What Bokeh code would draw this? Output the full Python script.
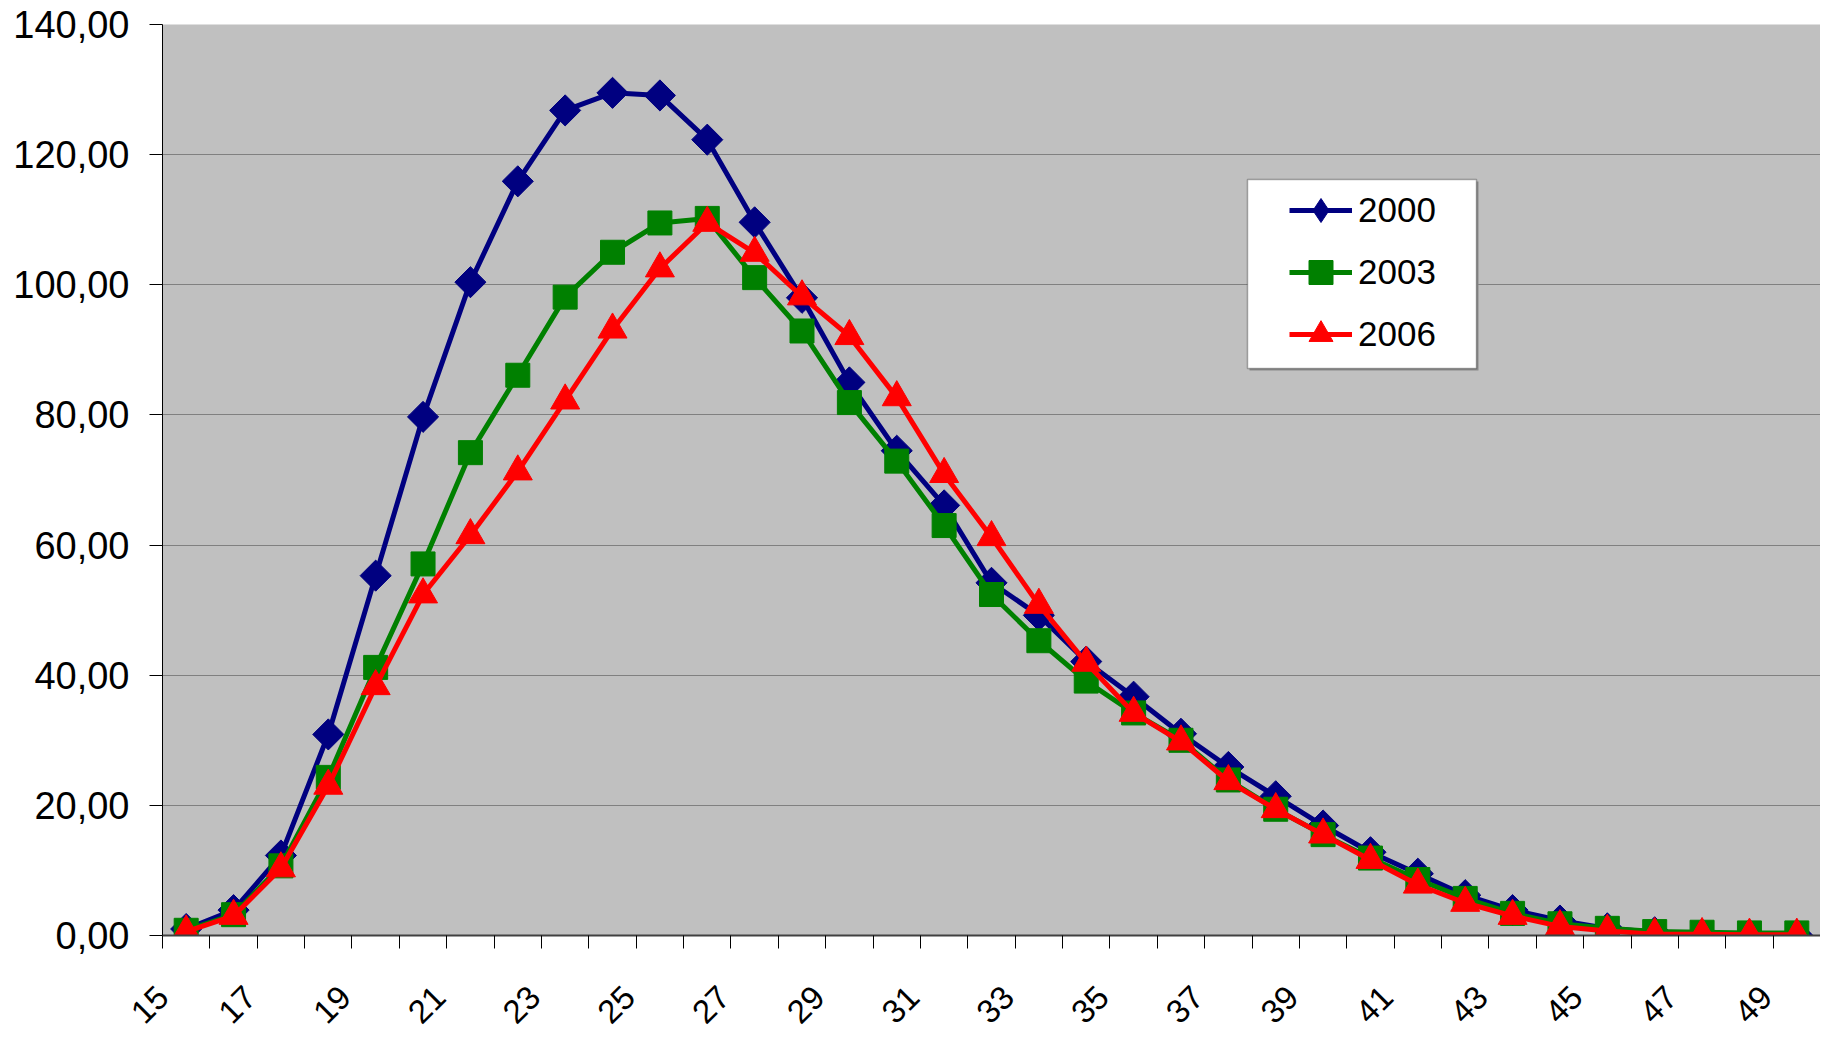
import math
from bokeh.plotting import figure
from bokeh.models import Range1d, FixedTicker, Legend, LegendItem, BoxAnnotation
from bokeh.embed import file_html
from bokeh.resources import INLINE

# ---- data ----
ages = list(range(15, 50))
s2000 = [1.0, 3.9, 12.3, 30.9, 55.3, 79.7, 100.4, 115.9, 126.8, 129.5, 129.1, 122.3,
         109.6, 98.0, 85.0, 74.5, 66.1, 54.2, 49.2, 42.1, 36.7, 31.0, 25.9, 21.4,
         16.9, 12.8, 9.5, 6.2, 3.9, 2.3, 1.1, 0.5, 0.1, 0.1, 0.1]
s2003 = [0.8, 3.2, 10.7, 24.3, 41.2, 57.1, 74.2, 86.1, 98.1, 105.0, 109.5, 110.2,
         101.1, 92.9, 81.9, 72.9, 63.0, 52.4, 45.3, 39.1, 34.2, 30.0, 23.9, 19.4,
         15.5, 11.9, 8.6, 5.7, 3.4, 1.8, 1.1, 0.6, 0.5, 0.4, 0.4]
s2006 = [0.6, 3.0, 10.3, 23.0, 38.3, 52.4, 61.5, 71.3, 82.2, 93.1, 102.5, 109.5,
         104.9, 98.2, 92.1, 82.7, 70.9, 61.2, 50.8, 41.9, 34.2, 29.8, 23.7, 19.4,
         15.5, 11.6, 7.8, 5.0, 3.0, 1.4, 0.7, 0.2, 0.2, 0.1, 0.1]
series_names = ["2000", "2003", "2006"]
y_ticks = [0, 20, 40, 60, 80, 100, 120, 140]
y_tick_labels = ["0,00", "20,00", "40,00", "60,00", "80,00", "100,00", "120,00", "140,00"]
x_label_ages = [15, 17, 19, 21, 23, 25, 27, 29, 31, 33, 35, 37, 39, 41, 43, 45, 47, 49]
x_tick_labels = ["15", "17", "19", "21", "23", "25", "27", "29", "31", "33", "35",
                 "37", "39", "41", "43", "45", "47", "49"]

FONT = "Liberation Sans"
x_lo, x_hi = ages[0] - 0.5, ages[-1] + 0.5

p = figure(width=1820, height=1036, output_backend="svg", toolbar_location=None,
           x_range=Range1d(x_lo, x_hi), y_range=Range1d(0, 140),
           min_border_left=162, min_border_right=0, min_border_top=24,
           min_border_bottom=99)
p.outline_line_color = None
p.background_fill_color = "#C0C0C0"
p.border_fill_color = "white"

# grid
p.xgrid.visible = False
p.ygrid.grid_line_color = "#808080"
p.ygrid.grid_line_width = 1

# y axis
p.yaxis.ticker = FixedTicker(ticks=y_ticks)
p.yaxis.major_label_overrides = {t: l for t, l in zip(y_ticks, y_tick_labels)}
p.yaxis.major_tick_out = 13
p.yaxis.major_tick_in = 0
p.yaxis.minor_tick_line_color = None
p.yaxis.axis_line_color = "black"
p.yaxis.major_tick_line_color = "black"
p.yaxis.major_label_text_font = FONT
p.yaxis.major_label_text_font_size = "38px"
p.yaxis.major_label_text_color = "black"
p.yaxis.major_label_standoff = 20

# x axis: rotated labels sit to the left of their category centre (Excel-style)
label_pos = [max(a - 0.65, x_lo) for a in x_label_ages]
p.xaxis.ticker = FixedTicker(ticks=label_pos,
                             minor_ticks=[a - 0.5 for a in ages] + [x_hi])
p.xaxis.major_label_overrides = {t: l for t, l in zip(label_pos, x_tick_labels)}
p.xaxis.major_tick_line_color = None
p.xaxis.major_tick_out = 13
p.xaxis.minor_tick_out = 13
p.xaxis.minor_tick_in = 0
p.xaxis.minor_tick_line_color = "black"
p.xaxis.axis_line_color = "#404040"
p.xaxis.axis_line_width = 2
p.xaxis.major_label_orientation = math.pi / 4
p.xaxis.major_label_text_font = FONT
p.xaxis.major_label_text_font_size = "33px"
p.xaxis.major_label_text_color = "black"
p.xaxis.major_label_standoff = 43

# legend box (white with shadow)
p.add_layout(BoxAnnotation(left=1249, right=1478, top=181, bottom=370,
                           left_units="canvas", right_units="canvas",
                           top_units="canvas", bottom_units="canvas",
                           fill_color="#8a8a8a", fill_alpha=1.0, line_color=None,
                           level="annotation"))
p.add_layout(BoxAnnotation(left=1247, right=1476, top=179, bottom=368,
                           left_units="canvas", right_units="canvas",
                           top_units="canvas", bottom_units="canvas",
                           fill_color="white", fill_alpha=1.0, line_color="black",
                           line_width=1.5, level="annotation"))

colors = ["#000080", "#008000", "#FF0000"]
items = []
for name, ys, col, mk in zip(series_names, [s2000, s2003, s2006], colors,
                             ["diamond", "square", "triangle"]):
    ln = p.line(ages, ys, line_color=col, line_width=5)
    if mk == "diamond":
        # narrow diamond (used by the legend), hidden under the wider data diamonds
        lg = p.scatter(ages, ys, marker="diamond", size=28,
                       fill_color=col, line_color=col)
        p.scatter(ages, ys, marker="square", angle=math.pi / 4, size=22,
                  fill_color=col, line_color=col)
        rends = [ln, lg]
    elif mk == "square":
        sc = p.scatter(ages, ys, marker="square", size=24,
                       fill_color=col, line_color=col)
        rends = [ln, sc]
    else:
        sc = p.scatter(ages, ys, marker="triangle", size=29,
                       fill_color=col, line_color=col)
        rends = [ln, sc]
    items.append(LegendItem(label=name, renderers=rends))

legend = Legend(items=items, location=(1127, 571), orientation="vertical",
                background_fill_alpha=0, border_line_color=None, padding=0,
                spacing=2, glyph_width=63, glyph_height=60, label_height=60,
                label_standoff=6, label_text_font=FONT,
                label_text_font_size="35px", label_text_color="black",
                margin=0)
p.add_layout(legend, "center")

open("out.html", "w").write(file_html(p, INLINE))
